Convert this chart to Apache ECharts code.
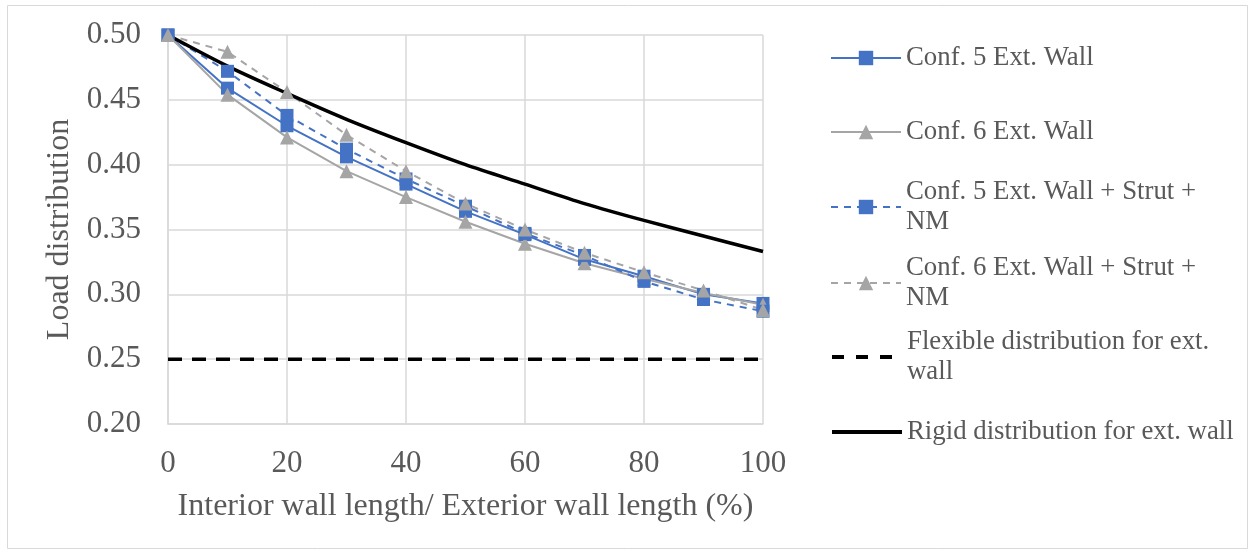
<!DOCTYPE html>
<html>
<head>
<meta charset="utf-8">
<script src="https://cdn.jsdelivr.net/npm/echarts@6/dist/echarts.min.js"></script>
<style>
html,body{margin:0;padding:0;background:#fff;}
#chart{width:1255px;height:555px;}
</style>
</head>
<body>
<div id="chart"></div>
<script>
const xValues = [0, 10, 20, 30, 40, 50, 60, 70, 80, 90, 100];
const conf5Ext = [0.500, 0.459, 0.430, 0.406, 0.385, 0.364, 0.346, 0.327, 0.314, 0.300, 0.293];
const conf6Ext = [0.500, 0.454, 0.421, 0.395, 0.375, 0.356, 0.339, 0.324, 0.312, 0.301, 0.292];
const conf5Strut = [0.500, 0.472, 0.438, 0.412, 0.389, 0.368, 0.347, 0.330, 0.310, 0.296, 0.287];
const conf6Strut = [0.500, 0.487, 0.456, 0.423, 0.395, 0.370, 0.350, 0.332, 0.317, 0.303, 0.288];
const flexibleX = [0, 100];
const flexible = [0.25, 0.25];
const rigid = [0.500, 0.476, 0.455, 0.435, 0.417, 0.400, 0.385, 0.370, 0.357, 0.345, 0.333];
const yTicks = ['0.20', '0.25', '0.30', '0.35', '0.40', '0.45', '0.50'];
const xTicks = ['0', '20', '40', '60', '80', '100'];

const names = [
  'Conf. 5 Ext. Wall',
  'Conf. 6 Ext. Wall',
  'Conf. 5 Ext. Wall + Strut + NM',
  'Conf. 6 Ext. Wall + Strut + NM',
  'Flexible distribution for ext. wall',
  'Rigid distribution for ext. wall'
];
const legendText = {
  'Conf. 5 Ext. Wall + Strut + NM': 'Conf. 5 Ext. Wall + Strut +\nNM',
  'Conf. 6 Ext. Wall + Strut + NM': 'Conf. 6 Ext. Wall + Strut +\nNM',
  'Flexible distribution for ext. wall': 'Flexible distribution for ext.\nwall'
};

const pair = (xs, ys) => xs.map((x, i) => [x, ys[i]]);
const FONT = 'Liberation Serif';
const TXT = '#595959';
const BLUE = '#4472C4';
const GRAY = '#A5A5A5';

const legendCenters = [58, 132, 207, 283, 357, 432];
const legends = names.map((n, i) => {
  const multi = !!legendText[n];
  const noMarker = i >= 4;
  return {
    data: [noMarker ? {
      name: n, itemStyle: {opacity: 0},
      lineStyle: {width: 4, type: i === 4 ? [12, 12] : 'solid', color: '#000'}
    } : n],
    left: 830,
    top: multi ? legendCenters[i] - 45 : legendCenters[i] - 15,
    padding: 0,
    itemWidth: 70,
    itemHeight: 18,
    selectedMode: false,
    formatter: (nm) => legendText[nm] || nm,
    textStyle: {
      fontFamily: FONT, fontSize: 26.8, color: TXT, lineHeight: 30,
      padding: multi ? [30, 0, 0, 0] : 0
    }
  };
});

const chart = echarts.init(document.getElementById('chart'), null, {renderer: 'canvas'});
chart.setOption({
  backgroundColor: '#fff',
  animation: false,
  graphic: [{
    type: 'rect', shape: {x: 7.5, y: 5.5, width: 1240, height: 543},
    style: {fill: 'none', stroke: '#D9D9D9', lineWidth: 1}, silent: true, z: -1
  }],
  legend: legends,
  grid: {left: 168, top: 35, right: 492, bottom: 131, containLabel: false},
  xAxis: {
    type: 'value', min: 0, max: 100, interval: 20,
    name: 'Interior wall length/ Exterior wall length (%)',
    nameLocation: 'middle', nameGap: 67,
    nameTextStyle: {fontFamily: FONT, fontSize: 32, color: TXT},
    axisLine: {show: true, lineStyle: {color: '#D9D9D9', width: 1.5}},
    axisTick: {show: false},
    splitLine: {show: true, lineStyle: {color: '#D9D9D9', width: 1.5}},
    axisLabel: {
      fontFamily: FONT, fontSize: 31, color: TXT, margin: 24,
      formatter: (v) => xTicks[Math.round(v / 20)]
    }
  },
  yAxis: {
    type: 'value', min: 0.2, max: 0.5, interval: 0.05,
    name: 'Load distribution',
    nameLocation: 'middle', nameGap: 92,
    nameTextStyle: {fontFamily: FONT, fontSize: 32, color: TXT},
    axisLine: {show: true, lineStyle: {color: '#D9D9D9', width: 1.5}},
    axisTick: {show: false},
    splitLine: {show: true, lineStyle: {color: '#D9D9D9', width: 1.5}},
    axisLabel: {
      fontFamily: FONT, fontSize: 31, color: TXT, margin: 27,
      formatter: (v) => yTicks[Math.round((v - 0.2) / 0.05)]
    }
  },
  series: [
    {
      name: names[0], type: 'line', data: pair(xValues, conf5Ext),
      symbol: 'rect', symbolSize: 13, showAllSymbol: true,
      itemStyle: {color: BLUE}, lineStyle: {color: BLUE, width: 2}
    },
    {
      name: names[1], type: 'line', data: pair(xValues, conf6Ext),
      symbol: 'triangle', symbolSize: 14,
      itemStyle: {color: GRAY}, lineStyle: {color: GRAY, width: 2}
    },
    {
      name: names[2], type: 'line', data: pair(xValues, conf5Strut),
      symbol: 'rect', symbolSize: 13,
      itemStyle: {color: BLUE}, lineStyle: {color: BLUE, width: 2, type: [7, 6]}
    },
    {
      name: names[3], type: 'line', data: pair(xValues, conf6Strut),
      symbol: 'triangle', symbolSize: 14,
      itemStyle: {color: GRAY}, lineStyle: {color: GRAY, width: 2, type: [7, 6]}
    },
    {
      name: names[4], type: 'line', data: pair(flexibleX, flexible),
      symbol: 'none', itemStyle: {color: '#000'},
      lineStyle: {color: '#000', width: 3.5, type: [14, 10]}
    },
    {
      name: names[5], type: 'line', data: pair(xValues, rigid),
      symbol: 'none', smooth: 0.3, itemStyle: {color: '#000'},
      lineStyle: {color: '#000', width: 3.5}
    }
  ]
});
</script>
</body>
</html>
